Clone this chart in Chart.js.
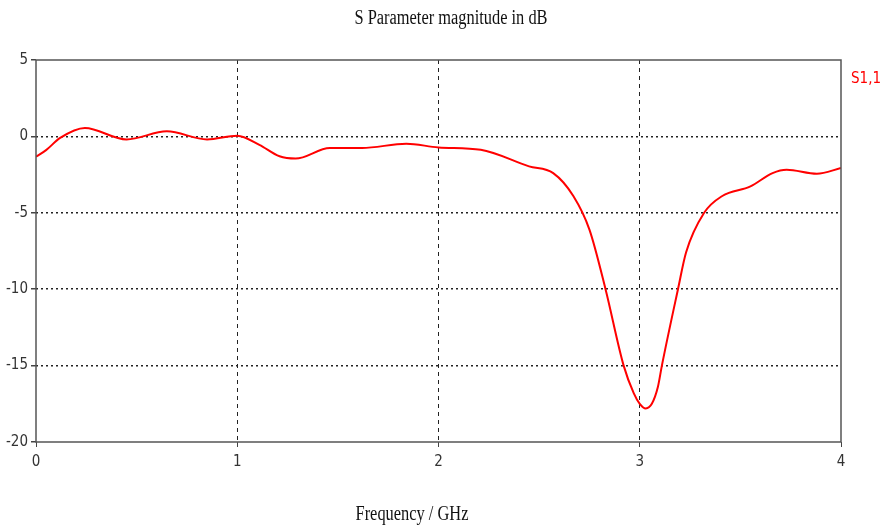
<!DOCTYPE html>
<html>
<head>
<meta charset="utf-8">
<script src="https://cdn.jsdelivr.net/npm/chart.js@4"></script>
<style>
  html, body { margin: 0; padding: 0; background: #fff; }
  #wrap { width: 880px; height: 529px; }
</style>
</head>
<body>
<div id="wrap"><canvas id="myChart"></canvas></div>
<script>
// frequency in GHz, S1,1 in dB
var freq = [0, 0.05, 0.12, 0.243, 0.45, 0.65, 0.85, 1.0, 1.11, 1.21, 1.29, 1.46, 1.62, 1.84, 2.0, 2.21, 2.45, 2.57, 2.67, 2.75, 2.83, 2.92, 2.97, 3.0, 3.03, 3.06, 3.09, 3.11, 3.19, 3.23, 3.32, 3.41, 3.55, 3.66, 3.73, 3.88, 4.0];
var s11 = [-1.33, -0.9, -0.1, 0.55, -0.2, 0.33, -0.2, 0.05, -0.55, -1.3, -1.45, -0.76, -0.76, -0.48, -0.72, -0.87, -1.96, -2.4, -3.9, -6.1, -10.0, -15.0, -16.8, -17.5, -17.8, -17.5, -16.4, -15.0, -10.0, -7.6, -5.0, -3.9, -3.27, -2.4, -2.18, -2.44, -2.07];
var xTicks = [0, 1, 2, 3, 4];
var yTicks = [5, 0, -5, -10, -15, -20];
var seriesName = "S1,1";
var titleText = "S Parameter magnitude in dB";
var xTitle = "Frequency / GHz";

var points = freq.map(function (f, i) { return { x: f, y: s11[i] }; });
var narrow = "'Liberation Sans Narrow', 'DejaVu Sans Condensed', sans-serif";

var extras = {
    id: "extras",
    afterDraw: function (chart) {
        var ctx = chart.ctx, a = chart.chartArea;
        ctx.save();
        // frame
        ctx.strokeStyle = "#555";
        ctx.lineWidth = 1.5;
        ctx.strokeRect(a.left, a.top, a.right - a.left, a.bottom - a.top);
        // title and axis title, condensed serif
        ctx.fillStyle = "#111";
        ctx.textAlign = "center";
        ctx.textBaseline = "middle";
        ctx.font = "20px 'Liberation Serif', serif";
        ctx.save();
        ctx.translate(451, 19);
        ctx.scale(0.82, 1);
        ctx.fillText(titleText, 0, 0);
        ctx.restore();
        ctx.save();
        ctx.translate(412, 515);
        ctx.scale(0.82, 1);
        ctx.fillText(xTitle, 0, 0);
        ctx.restore();
        // series label
        ctx.fillStyle = "#ff0000";
        ctx.font = "15px " + narrow;
        ctx.textAlign = "left";
        ctx.fillText(chart.data.datasets[0].label, 851, 79);
        ctx.restore();
    }
};

function edgeColor(ctx, lo, hi) {
    var v = ctx.tick ? ctx.tick.value : null;
    return (v === lo || v === hi) ? "rgba(0,0,0,0)" : "#222";
}

var chart = new Chart(document.getElementById("myChart"), {
    type: "line",
    data: {
        datasets: [{
            label: seriesName,
            data: points,
            borderColor: "#ff0000",
            borderWidth: 2,
            pointRadius: 0,
            fill: false,
            cubicInterpolationMode: "monotone"
        }]
    },
    options: {
        responsive: true,
        maintainAspectRatio: false,
        animation: false,
        layout: { padding: { top: 60, right: 39, left: 0, bottom: 0 } },
        plugins: { legend: { display: false }, title: { display: false }, tooltip: { enabled: false } },
        scales: {
            x: {
                type: "linear",
                min: 0, max: 4,
                afterBuildTicks: function (s) { s.ticks = xTicks.map(function (v) { return { value: v }; }); },
                afterFit: function (s) { s.height = 87; },
                border: { display: false, dash: [4, 4] },
                grid: {
                    color: function (c) { return edgeColor(c, 0, 4); },
                    lineWidth: 1,
                    tickLength: 5,
                    tickColor: "#444",
                    tickBorderDash: []
                },
                ticks: { color: "#333", font: { family: narrow, size: 15 }, padding: 6, maxRotation: 0 }
            },
            y: {
                min: -20, max: 5,
                afterBuildTicks: function (s) { s.ticks = yTicks.map(function (v) { return { value: v }; }); },
                afterFit: function (s) { s.width = 36; },
                border: { display: false, dash: [2, 3] },
                grid: {
                    color: function (c) { return edgeColor(c, -20, 5); },
                    lineWidth: 1.5,
                    tickLength: 5,
                    tickColor: "#444",
                    tickBorderDash: []
                },
                ticks: { color: "#333", font: { family: narrow, size: 15 }, padding: 3 }
            }
        }
    },
    plugins: [extras]
});
</script>
</body>
</html>
